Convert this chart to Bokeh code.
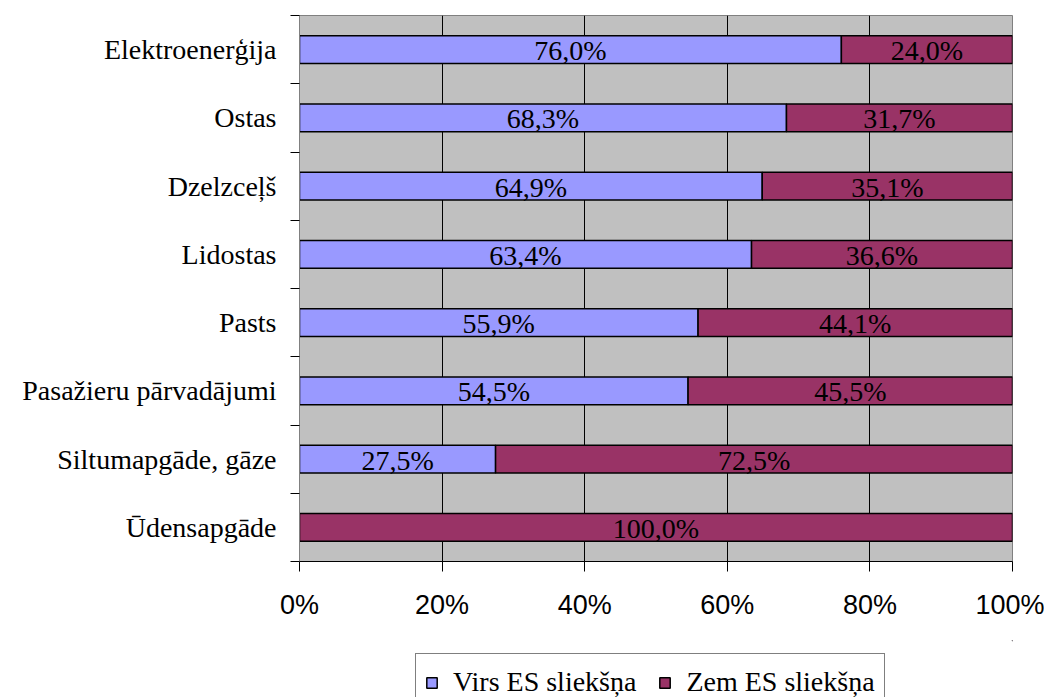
from bokeh.plotting import figure
from bokeh.layouts import column
from bokeh.models import (ColumnDataSource, FixedTicker, Legend, LegendItem,
                          LabelSet, Range1d)
from bokeh.embed import file_html
from bokeh.resources import INLINE

categories = ["Elektroenerģija", "Ostas", "Dzelzceļš", "Lidostas", "Pasts",
              "Pasažieru pārvadājumi", "Siltumapgāde, gāze", "Ūdensapgāde"]
virs = [76.0, 68.3, 64.9, 63.4, 55.9, 54.5, 27.5, 0.0]
zem = [24.0, 31.7, 35.1, 36.6, 44.1, 45.5, 72.5, 100.0]
series_names = ["Virs ES sliekšņa", "Zem ES sliekšņa"]
x_ticks = [0, 20, 40, 60, 80, 100]
x_tick_labels = ["0%", "20%", "40%", "60%", "80%", "100%"]

n = len(categories)
ypos = [n - i - 0.5 for i in range(n)]

blue = "#9999FF"
red = "#993366"

p = figure(width=1044, height=640, output_backend="svg", toolbar_location=None,
           x_range=Range1d(0, 100), y_range=Range1d(0, n),
           min_border_left=299, min_border_right=32, min_border_top=15,
           min_border_bottom=79)
p.background_fill_color = "#C0C0C0"
p.outline_line_color = "#808080"
p.outline_line_width = 1

src = ColumnDataSource(dict(y=ypos, virs=virs, zem=zem,
                            total=[a + b for a, b in zip(virs, zem)],
                            zero=[0] * n))
r1 = p.hbar(y="y", left="zero", right="virs", height=0.41, source=src,
            fill_color=blue, line_color="black", line_width=1.5)
r2 = p.hbar(y="y", left="virs", right="total", height=0.41, source=src,
            fill_color=red, line_color="black", line_width=1.5)

# labels
lx, ly, lt = [], [], []
for yv, a, b in zip(ypos, virs, zem):
    if a > 0:
        lx.append(a / 2); ly.append(yv); lt.append(f"{a:.1f}%".replace(".", ","))
    if b > 0:
        lx.append(a + b / 2); ly.append(yv); lt.append(f"{b:.1f}%".replace(".", ","))
lsrc = ColumnDataSource(dict(x=lx, y=ly, t=lt))
p.add_layout(LabelSet(x="x", y="y", text="t", source=lsrc, text_align="center",
                      text_baseline="middle", text_font="Liberation Serif",
                      text_font_size="28px", text_color="black", y_offset=-1))

# axes
p.xaxis.ticker = FixedTicker(ticks=x_ticks)
p.xaxis.major_label_overrides = {t: l for t, l in zip(x_ticks, x_tick_labels)}
p.xaxis.major_label_text_font = "Liberation Sans"
p.xaxis.major_label_text_font_size = "27px"
p.xaxis.major_label_text_color = "black"
p.xaxis.major_tick_in = 0
p.xaxis.major_tick_out = 10
p.xaxis.minor_tick_out = 0
p.xaxis.minor_tick_in = 0
p.xaxis.major_label_standoff = 18
p.xaxis.axis_line_color = "black"
p.xaxis.major_tick_line_color = "black"

p.yaxis.ticker = FixedTicker(ticks=ypos, minor_ticks=list(range(n + 1)))
p.yaxis.major_label_overrides = {y: c for y, c in zip(ypos, categories)}
p.yaxis.major_label_text_font = "Liberation Serif"
p.yaxis.major_label_text_font_size = "28px"
p.yaxis.major_label_text_color = "black"
p.yaxis.major_tick_in = 0
p.yaxis.major_tick_out = 0
p.yaxis.minor_tick_in = 0
p.yaxis.minor_tick_out = 9
p.yaxis.minor_tick_line_color = "black"
p.yaxis.major_label_standoff = 14
p.yaxis.axis_line_color = "#808080"

p.xgrid.grid_line_color = "black"
p.xgrid.grid_line_alpha = 1
p.ygrid.grid_line_color = None

# legend figure (frames are aligned with the main plot by the column layout)
p2 = figure(width=1044, height=57, output_backend="svg", toolbar_location=None,
            x_axis_location=None, y_axis_location=None,
            x_range=Range1d(0, 1), y_range=Range1d(0, 1),
            min_border_left=0, min_border_right=0, min_border_top=0,
            min_border_bottom=0)
p2.outline_line_color = None
p2.xgrid.grid_line_color = None
p2.ygrid.grid_line_color = None
offscreen = ColumnDataSource(dict(y=[10], l=[10], r=[11]))
d1 = p2.hbar(y="y", left="l", right="r", height=0.4, source=offscreen,
             fill_color=blue, line_color="black", line_width=1.5)
d2 = p2.hbar(y="y", left="l", right="r", height=0.4, source=offscreen,
             fill_color=red, line_color="black", line_width=1.5)
legend = Legend(items=[LegendItem(label=series_names[0], renderers=[d1]),
                       LegendItem(label=series_names[1], renderers=[d2])],
                orientation="horizontal", location=(116, -14),
                label_text_font="Liberation Serif", label_text_font_size="28px",
                label_text_color="black", glyph_width=13, glyph_height=13,
                label_height=38, label_standoff=15, spacing=22, padding=9,
                margin=0, border_line_color="black", border_line_width=1,
                background_fill_color="white", background_fill_alpha=1)
p2.add_layout(legend, "center")

open("out.html", "w").write(file_html(column(p, p2, spacing=0), INLINE))
